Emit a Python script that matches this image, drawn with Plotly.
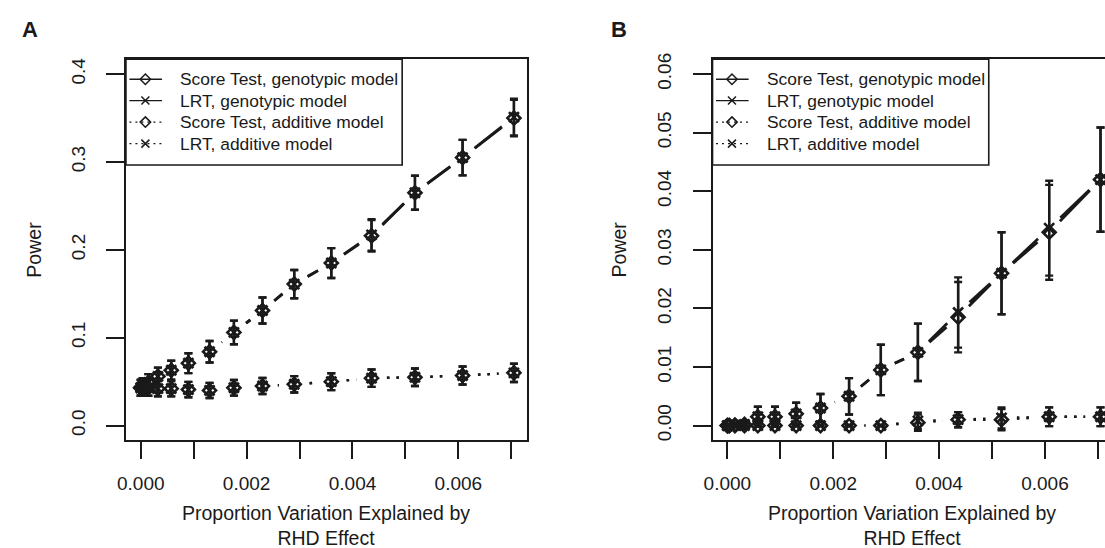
import math
import plotly.graph_objects as go

# ---------------- data ----------------
x_vals = [0.0, 0.000036, 0.000144, 0.000324, 0.000576, 0.0009, 0.0013, 0.00176,
          0.0023, 0.0029, 0.0036, 0.00436, 0.00518, 0.00608, 0.00705]

# Panel A
a_score_geno = [0.043, 0.045, 0.049, 0.056, 0.063, 0.071, 0.084, 0.106, 0.131, 0.161, 0.185, 0.216, 0.265, 0.305, 0.350]
a_lrt_geno = [0.043, 0.045, 0.049, 0.056, 0.063, 0.071, 0.084, 0.106, 0.131, 0.161, 0.185, 0.217, 0.265, 0.305, 0.351]
a_geno_err = [0.009, 0.009, 0.0095, 0.010, 0.0107, 0.0113, 0.0122, 0.0135, 0.0148, 0.0161, 0.017, 0.018, 0.0194, 0.0202, 0.0209]
a_score_add = [0.043, 0.043, 0.043, 0.042, 0.042, 0.041, 0.040, 0.043, 0.045, 0.047, 0.050, 0.054, 0.055, 0.057, 0.060]
a_lrt_add = [0.043, 0.043, 0.043, 0.042, 0.042, 0.041, 0.040, 0.043, 0.045, 0.047, 0.050, 0.054, 0.055, 0.057, 0.060]
a_add_err = [0.009, 0.009, 0.009, 0.0088, 0.0088, 0.0087, 0.0086, 0.0089, 0.0091, 0.0093, 0.0096, 0.0099, 0.010, 0.0102, 0.0104]

# Panel B
b_score_geno = [0.0, 0.0, 0.0001, 0.0002, 0.0015, 0.0015, 0.002, 0.003, 0.005, 0.0095, 0.0125, 0.0185, 0.026, 0.033, 0.042]
b_lrt_geno = [0.0, 0.0, 0.0001, 0.0002, 0.0015, 0.0015, 0.002, 0.003, 0.005, 0.0095, 0.0125, 0.0193, 0.026, 0.0337, 0.042]
b_geno_err = [0.0, 0.0, 0.0004, 0.0006, 0.0017, 0.0017, 0.0019, 0.0024, 0.0031, 0.0043, 0.0049, 0.0060, 0.0070, 0.0081, 0.0089]
b_score_add = [0.0, 0.0, 0.0, 0.0, 0.0, 0.0, 0.0, 0.0, 0.0, 0.0, 0.0005, 0.001, 0.001, 0.0015, 0.0015]
b_lrt_add = [0.0, 0.0, 0.0, 0.0, 0.0, 0.0, 0.0, 0.0, 0.0, 0.0, 0.0008, 0.001, 0.0013, 0.0015, 0.0015]
b_add_err = [0.0, 0.0, 0.0, 0.0, 0.0, 0.0, 0.0, 0.0, 0.0, 0.0, 0.0014, 0.0013, 0.0018, 0.0016, 0.0016]

x_tick_vals = [0.0, 0.001, 0.002, 0.003, 0.004, 0.005, 0.006, 0.007]
x_tick_text = ["0.000", "", "0.002", "", "0.004", "", "0.006", ""]
a_y_tick_vals = [0.0, 0.1, 0.2, 0.3, 0.4]
a_y_tick_text = ["0.0", "0.1", "0.2", "0.3", "0.4"]
b_y_tick_vals = [0.0, 0.01, 0.02, 0.03, 0.04, 0.05, 0.06]
b_y_tick_text = ["0.00", "0.01", "0.02", "0.03", "0.04", "0.05", "0.06"]

legend_names = ["Score Test, genotypic model", "LRT, genotypic model",
                "Score Test, additive model", "LRT, additive model"]
legend_symbols = ["diamond-open", "x-thin-open", "diamond-open", "x-thin-open"]
legend_dashes = ["solid", "solid", "dot", "dot"]

# ---------------- layout constants ----------------
W, H = 1105, 548
FONT = "Liberation Sans, Arial, sans-serif"
INK = "#1a1a1a"
DOTTED = "2.5px,7px"

a_xdom = [117.9 / W, 522.1 / W]
a_xrange = [-0.00028, 0.007294]
b_xdom = [709.3 / W, 1.0]
b_xrange = [-0.00028, -0.00028 + (W - 709.3) / (404.2 / 0.007574)]
ydom = [1 - 440 / H, 1 - 54 / H]
a_yrange = [-0.01685, 0.41685]
b_yrange = [-0.00253, 0.06253]

# legend geometry (pixels, relative to the legend's left edge / figure top)
LEG_W, LEG_TOP, LEG_BOT = 278.5, 54, 161
LEG_ROWS = [74.2, 95.8, 117.6, 139.4]
LEG_LINE = (3.5, 36.4)
LEG_MARK = 19.6
LEG_TEXT = 52.8


def scale(dom, rng, total):
    return (dom[1] - dom[0]) * total / (rng[1] - rng[0])


def gapped(xs, ys, sx, sy, gap):
    ox, oy = [], []
    for i in range(len(xs) - 1):
        dxv = xs[i + 1] - xs[i]
        dyv = ys[i + 1] - ys[i]
        d = math.hypot(dxv * sx, dyv * sy)
        if d > 2 * gap:
            f0 = gap / d
            f1 = 1 - gap / d
            ox += [xs[i] + f0 * dxv, xs[i] + f1 * dxv, None]
            oy += [ys[i] + f0 * dyv, ys[i] + f1 * dyv, None]
    return ox, oy


fig = go.Figure()

panels = [
    ("x", "y", a_xdom, a_xrange, a_yrange,
     [(a_score_geno, a_geno_err, "diamond-open", "solid"),
      (a_lrt_geno, a_geno_err, "x-thin-open", "solid"),
      (a_score_add, a_add_err, "diamond-open", "dot"),
      (a_lrt_add, a_add_err, "x-thin-open", "dot")]),
    ("x2", "y2", b_xdom, b_xrange, b_yrange,
     [(b_score_geno, b_geno_err, "diamond-open", "solid"),
      (b_lrt_geno, b_geno_err, "x-thin-open", "solid"),
      (b_score_add, b_add_err, "diamond-open", "dot"),
      (b_lrt_add, b_add_err, "x-thin-open", "dot")]),
]

for xa, ya, xdom, xr, yr, series in panels:
    sx = scale(xdom, xr, W)
    sy = scale(ydom, yr, H)
    for ys, err, sym, dash in series:
        gx, gy = gapped(x_vals, ys, sx, sy, 15.5)
        fig.add_trace(go.Scatter(
            x=gx, y=gy, xaxis=xa, yaxis=ya, mode="lines",
            line=dict(color=INK, width=2.7 if dash == "solid" else 2.4,
                      dash="solid" if dash == "solid" else DOTTED),
            showlegend=False, hoverinfo="skip"))
        fig.add_trace(go.Scatter(
            x=x_vals, y=ys, xaxis=xa, yaxis=ya, mode="markers",
            marker=dict(symbol=sym, size=10, color=INK, line=dict(color=INK, width=2.6)),
            error_y=dict(type="data", array=err, visible=True, color=INK,
                         thickness=2.4, width=4),
            showlegend=False))

# ---- hand-drawn legends on a transparent pixel overlay axis ----
shapes = []
annots = []
for left in (a_xdom[0] * W, b_xdom[0] * W):
    shapes.append(dict(type="rect", xref="paper", yref="paper",
                       x0=left / W, x1=(left + LEG_W) / W,
                       y0=1 - LEG_BOT / H, y1=1 - LEG_TOP / H,
                       line=dict(color=INK, width=1.6), fillcolor="rgba(0,0,0,0)",
                       layer="above"))
    for row, name, sym, dash in zip(LEG_ROWS, legend_names, legend_symbols, legend_dashes):
        fig.add_trace(go.Scatter(
            x=[left + LEG_LINE[0], left + LEG_LINE[1]], y=[row, row],
            xaxis="x3", yaxis="y3", mode="lines",
            line=dict(color=INK, width=1.4, dash="solid" if dash == "solid" else "2px,4px"),
            showlegend=False, hoverinfo="skip"))
        fig.add_trace(go.Scatter(
            x=[left + LEG_MARK], y=[row], xaxis="x3", yaxis="y3", mode="markers",
            marker=dict(symbol=sym, size=8, color=INK, line=dict(color=INK, width=1.5)),
            showlegend=False, hoverinfo="skip"))
        annots.append(dict(x=(left + LEG_TEXT) / W, y=1 - row / H, text=name,
                           xanchor="left", yanchor="middle",
                           font=dict(family=FONT, size=17.4, color=INK)))

axis_common = dict(showgrid=False, zeroline=False, showline=True, linecolor=INK,
                   linewidth=1.6, ticks="outside", tickcolor=INK, tickwidth=1.6,
                   tickfont=dict(family=FONT, size=19, color=INK))

fig.update_layout(
    width=W, height=H, margin=dict(l=0, r=0, t=0, b=0),
    paper_bgcolor="white", plot_bgcolor="rgba(0,0,0,0)",
    font=dict(family=FONT, color=INK), showlegend=False,
    xaxis=dict(domain=a_xdom, range=a_xrange, tickmode="array", tickvals=x_tick_vals,
               ticktext=x_tick_text, ticklen=17, mirror=True, anchor="y",
               ticklabelstandoff=8, **axis_common),
    yaxis=dict(domain=ydom, range=a_yrange, tickmode="array", tickvals=a_y_tick_vals,
               ticktext=a_y_tick_text, tickangle=-90, ticklen=18, mirror=True, anchor="x",
               ticklabelstandoff=14, **axis_common),
    xaxis2=dict(domain=b_xdom, range=b_xrange, tickmode="array", tickvals=x_tick_vals,
                ticktext=x_tick_text, ticklen=17, mirror=True, anchor="y2",
                ticklabelstandoff=8, **axis_common),
    yaxis2=dict(domain=ydom, range=b_yrange, tickmode="array", tickvals=b_y_tick_vals,
                ticktext=b_y_tick_text, tickangle=-90, ticklen=18, mirror=False, anchor="x2",
                ticklabelstandoff=14, **axis_common),
    xaxis3=dict(domain=[0, 1], range=[0, W], visible=False, anchor="y3", fixedrange=True),
    yaxis3=dict(domain=[0, 1], range=[H, 0], visible=False, anchor="x3", fixedrange=True),
    shapes=shapes,
)

title_font = dict(family=FONT, size=19.5, color=INK)
xtitle = "Proportion Variation Explained by<br>RHD Effect"
annots += [
    dict(x=320 / W, y=1 - 526 / H, text=xtitle, font=title_font),
    dict(x=910 / W, y=1 - 526 / H, text=xtitle, font=title_font),
    dict(x=25 / W, y=1 - 247 / H, text="Power", textangle=-90, font=title_font),
    dict(x=614.6 / W, y=1 - 247 / H, text="Power", textangle=-90, font=title_font),
    dict(x=20.7 / W, y=1 - 24 / H, text="<b>A</b>", font=dict(family=FONT, size=22, color=INK)),
    dict(x=614.6 / W, y=1 - 24 / H, text="<b>B</b>", font=dict(family=FONT, size=22, color=INK)),
]
for a in annots:
    a.setdefault("xanchor", "center")
    a.setdefault("yanchor", "middle")
    fig.add_annotation(xref="paper", yref="paper", showarrow=False, **a)

fig.write_html("out.html", post_script="document.body.style.margin='0';document.body.style.overflow='hidden';")
